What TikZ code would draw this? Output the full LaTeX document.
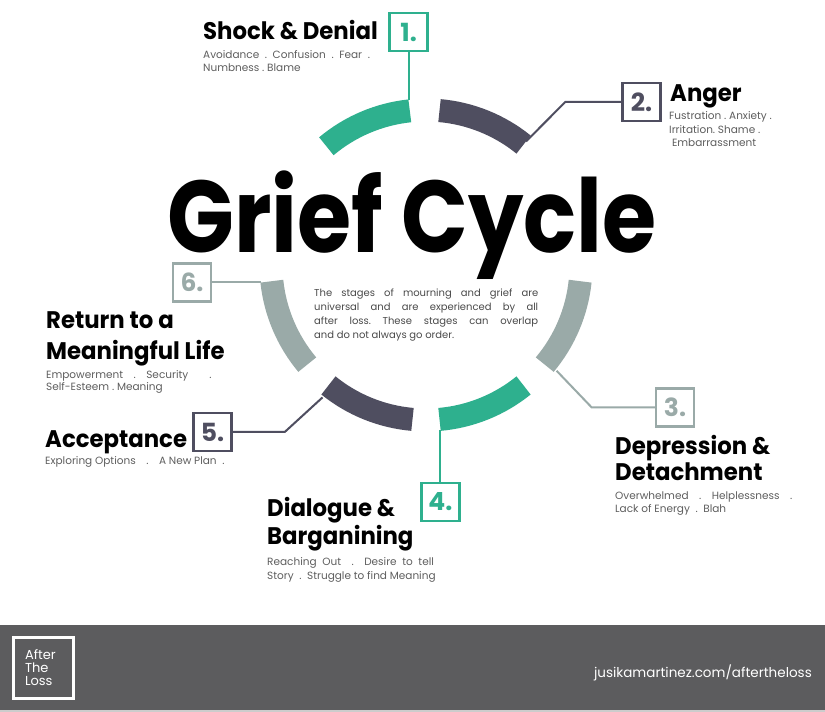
\documentclass[tikz,border=0pt]{standalone}
\usepackage{fontspec}
\setmainfont{Poppins}
\newfontfamily\headfont[FakeStretch=0.86]{Poppins}
\newfontfamily\titlefont[FakeStretch=0.95]{Poppins}
\definecolor{griefgreen}{HTML}{2EB08E}
\definecolor{griefdark}{HTML}{4F4E60}
\definecolor{griefgray}{HTML}{9AAAA8}
\definecolor{footgray}{HTML}{5C5C5E}
\definecolor{subgray}{HTML}{5E5E5E}
\definecolor{textgray}{HTML}{4A4A4A}

\begin{document}
\begin{tikzpicture}[x=1pt,y=1pt,
	stage/.style={line width=23pt},
	link/.style={line width=2pt},
	box/.style={draw, line width=2.5pt, minimum size=38pt, inner sep=0pt, font=\fontsize{25}{25}\selectfont\bfseries},
	title/.style={anchor=base west, inner sep=0pt, align=left, text=black, font=\fontsize{24}{28}\titlefont\bfseries},
	sub/.style={anchor=base west, inner sep=0pt, align=left, text=subgray, font=\fontsize{10.5}{13.5}\selectfont}]
	
	\useasboundingbox (0,0) rectangle (825,712);
	\fill[white] (0,0) rectangle (825,712);
	\coordinate (c) at (426,447);
	
	\draw[stage, griefgreen] ([shift={(96:155)}]c) arc[start angle=96, end angle=130, radius=155];
	\draw[stage, griefdark] ([shift={(51:155)}]c) arc[start angle=51, end angle=85, radius=155];
	\draw[stage, griefgray] ([shift={(-40:155)}]c) arc[start angle=-40, end angle=-6, radius=155];
	\draw[stage, griefgray] ([shift={(186:155)}]c) arc[start angle=186, end angle=220, radius=155];
	\draw[stage, griefdark] ([shift={(231:155)}]c) arc[start angle=231, end angle=265, radius=155];
	\draw[stage, griefgreen] ([shift={(275:155)}]c) arc[start angle=275, end angle=309, radius=155];
	
	\coordinate (e1) at ([shift={(96:166)}]c);
	\coordinate (e2) at ([shift={(51:159)}]c);
	\coordinate (e3) at ([shift={(-39:168)}]c);
	\coordinate (e4) at ([shift={(275:166)}]c);
	\coordinate (e5) at ([shift={(232:168)}]c);
	\coordinate (e6) at ([shift={(186:166)}]c);
	
	\node[box, griefgreen] (b1) at (e1 |- 0,680) {1.};
	\node[box, griefdark] (b2) at (641.5,610) {2.};
	\node[box, griefgray] (b3) at (675,304.5) {3.};
	\node[box, griefgreen] (b4) at (e4 |- 0,210) {4.};
	\node[box, griefdark] (b5) at (212.5,280) {5.};
	\node[box, griefgray] (b6) at (192,0 |- e6) {6.};
	
	\draw[link, griefgreen] (b1.south) -- (e1);
	\draw[link, griefdark] (b2.west) -- ++(-56,0) -- (e2);
	\draw[link, griefgray] (b3.west) -- ++(-63,0) -- (e3);
	\draw[link, griefgreen] (b4.north) -- (e4);
	\draw[link, griefdark] (b5.east) -- ++(52,0) -- (e5);
	\draw[link, griefgray] (b6.east) -- (e6);
	
	\node[title, text depth=0pt, font=\fontsize{102}{102}\headfont\bfseries] (head) at (167,459) {Grief Cycle};
	\node[anchor=base west, inner sep=0pt, text width=224pt, align=justify, text=textgray, font=\fontsize{10}{14}\selectfont\frenchspacing] (about) at (314,415) {The stages of mourning and grief are\linebreak universal and are experienced by all\linebreak after loss. These stages can overlap\linebreak and do not always go order.};
	
	\node[title] (t1) at (203,672) {Shock \& Denial};
	\node[sub] (s1) at (203,640) {Avoidance\ \ .\ \ Confusion\ \ .\ \ Fear\ \ .\\Numbness\ .\ Blame};
	\node[title] (t2) at (670,610) {Anger};
	\node[sub] (s2) at (669,565) {Fustration\ .\ Anxiety\ .\\Irritation.\ Shame\ .\\\ Embarrassment};
	\node[title, font=\fontsize{24}{26}\titlefont\bfseries] (t3) at (615,231) {Depression \&\\Detachment};
	\node[sub, font=\fontsize{10.5}{13}\selectfont] (s3) at (615,199) {Overwhelmed\quad.\quad Helplessness\quad.\\Lack of Energy\ \ .\ \ Blah};
	\node[title] (t4) at (267,167) {Dialogue \&\\Barganining};
	\node[sub, font=\fontsize{10.5}{14}\selectfont] (s4) at (267,132) {Reaching\ \ Out\quad.\quad Desire\ \ to\ \ tell\\Story\ \ .\ \ Struggle to find Meaning};
	\node[title] (t5) at (45,264) {Acceptance};
	\node[sub] (s5) at (45,247) {Exploring Options\quad.\quad A New Plan\ \ .};
	\node[title, font=\fontsize{24}{31}\titlefont\bfseries] (t6) at (46,352) {Return to a\\Meaningful Life};
	\node[sub, font=\fontsize{10.5}{12.5}\selectfont] (s6) at (46,321) {Empowerment\quad.\quad Security\qquad.\\Self-Esteem\ .\ Meaning};
	
	\fill[footgray] (0,2) rectangle (825,87);
	\fill[black!20] (0,0) rectangle (825,2);
	\node[draw=white, line width=2.5pt, minimum width=60pt, minimum height=61pt, inner sep=0pt, text width=37pt, align=left, text=white, font=\fontsize{13}{13}\selectfont] (logo) at (43.5,44) {After\\The\\Loss};
	\node[anchor=base east, inner sep=0pt, text=white, font=\fontsize{13.5}{13.5}\selectfont] (url) at (812,34) {jusikamartinez.com/aftertheloss};
\end{tikzpicture}
\end{document}
